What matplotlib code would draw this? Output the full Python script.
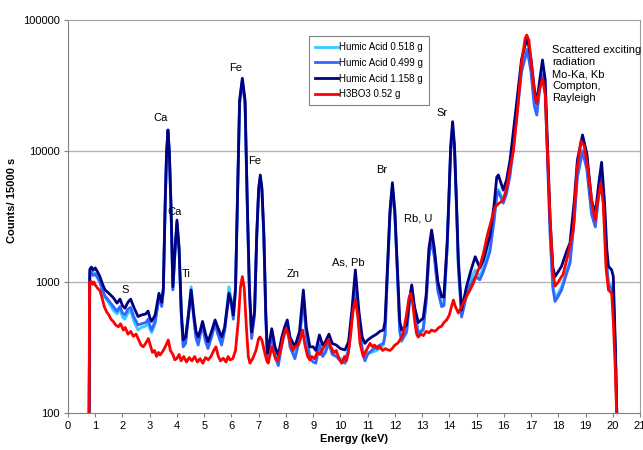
import numpy as np
from matplotlib import pyplot as plt

plt.rcParams['font.family'] = ['Liberation Sans', 'DejaVu Sans']

# energy grid shared by the three humic acid spectra (keV)
energy_ha = [0.77, 0.80, 0.86, 0.92, 1.00, 1.08, 1.17, 1.27, 1.36, 1.50,
             1.66, 1.80, 1.91, 2.00, 2.09, 2.20, 2.30, 2.42, 2.57, 2.70,
             2.85, 2.94, 3.00, 3.07, 3.20, 3.34, 3.44, 3.50, 3.57, 3.62,
             3.67, 3.72, 3.78, 3.85, 3.93, 4.00, 4.08, 4.16, 4.23, 4.32,
             4.42, 4.52, 4.62, 4.70, 4.78, 4.86, 4.94, 5.05, 5.14, 5.27,
             5.40, 5.50, 5.64, 5.75, 5.91, 6.00, 6.07, 6.15, 6.22, 6.30,
             6.40, 6.50, 6.58, 6.66, 6.74, 6.85, 6.93, 7.00, 7.06, 7.12,
             7.19, 7.26, 7.32, 7.40, 7.48, 7.60, 7.72, 7.85, 7.95, 8.05,
             8.15, 8.33, 8.50, 8.64, 8.75, 8.88, 9.00, 9.10, 9.23, 9.35,
             9.45, 9.58, 9.70, 9.85, 10.00, 10.17, 10.30, 10.42, 10.55, 10.68,
             10.80, 10.90, 11.00, 11.15, 11.33, 11.45, 11.58, 11.64, 11.73, 11.82,
             11.91, 12.00, 12.09, 12.18, 12.25, 12.43, 12.52, 12.62, 12.72, 12.86,
             13.04, 13.15, 13.25, 13.35, 13.45, 13.58, 13.72, 13.80, 13.92, 13.98,
             14.05, 14.12, 14.19, 14.26, 14.33, 14.45, 14.63, 14.78, 14.95, 15.12,
             15.25, 15.49, 15.65, 15.74, 15.80, 15.98, 16.10, 16.23, 16.35, 16.47,
             16.65, 16.86, 17.00, 17.12, 17.21, 17.32, 17.42, 17.52, 17.60, 17.70,
             17.80, 17.88, 18.00, 18.12, 18.30, 18.43, 18.59, 18.70, 18.89, 19.05,
             19.22, 19.36, 19.48, 19.59, 19.70, 19.78, 19.84, 19.96, 20.02, 20.10,
             20.18]

# Humic Acid 1.158 g
counts_1158 = [50, 1250, 1300, 1230, 1280, 1200, 1100, 960, 870, 820,
               760, 690, 740, 660, 630, 700, 740, 640, 545, 560,
               570, 600, 540, 500, 560, 820, 700, 900, 4225, 10000,
               14500, 10000, 4000, 920, 1800, 2970, 1800, 600, 361, 380,
               560, 870, 560, 420, 380, 430, 500, 400, 350, 420,
               513, 450, 380, 450, 820, 700, 560, 900, 4225, 24500,
               35900, 24500, 4225, 900, 415, 600, 2350, 5200, 6560, 5200,
               2350, 600, 286, 350, 440, 320, 277, 380, 450, 513,
               380, 320, 420, 869, 450, 320, 320, 300, 394, 330,
               350, 400, 340, 330, 310, 303, 350, 600, 1236, 600,
               380, 340, 360, 380, 400, 420, 430, 500, 1320, 3500,
               5730, 3500, 1320, 500, 430, 470, 700, 950, 650, 490,
               530, 800, 1800, 2494, 1800, 1000, 770, 770, 2000, 4225,
               11000, 16750, 11000, 4225, 1500, 611, 920, 1200, 1560, 1280,
               1470, 2250, 4000, 6320, 6560, 5030, 6000, 8540, 14000, 23150,
               50000, 74000, 50000, 30000, 23150, 35000, 49500, 35000, 12000, 3000,
               1300, 1100, 1200, 1320, 1700, 1990, 4225, 8500, 13250, 9500,
               4225, 3300, 5500, 8200, 4000, 1800, 1320, 1236, 1100, 300,
               50]

# Humic Acid 0.499 g
counts_0499 = [50, 1150, 1180, 1120, 1150, 1080, 1000, 860, 780, 720,
               650, 600, 650, 580, 560, 620, 640, 540, 470, 480,
               490, 520, 470, 430, 500, 760, 650, 850, 4000, 9500,
               13800, 9500, 3700, 870, 1700, 2800, 1700, 540, 320, 340,
               540, 840, 520, 370, 330, 400, 460, 350, 310, 380,
               480, 400, 330, 420, 800, 660, 520, 860, 4000, 23000,
               34000, 23000, 4000, 820, 370, 560, 2200, 4900, 6200, 4900,
               2200, 540, 250, 310, 400, 270, 230, 330, 400, 470,
               320, 260, 360, 760, 380, 260, 245, 240, 330, 270,
               290, 340, 280, 270, 250, 240, 300, 520, 870, 480,
               300, 250, 280, 300, 320, 330, 340, 400, 1200, 3200,
               5200, 3200, 1200, 420, 361, 420, 650, 920, 600, 400,
               430, 700, 1550, 2100, 1550, 850, 650, 660, 1800, 3900,
               10000, 14900, 10000, 3900, 1300, 540, 780, 950, 1100, 1040,
               1200, 1700, 3000, 4500, 4900, 4000, 4700, 6500, 10500, 18000,
               40000, 59000, 40000, 22000, 18800, 30000, 38000, 28000, 9000, 2300,
               900, 710, 780, 869, 1150, 1390, 3000, 6300, 9900, 7200,
               3300, 2630, 4500, 6000, 3000, 1300, 950, 880, 800, 260,
               50]

# Humic Acid 0.518 g
counts_0518 = [50, 1180, 1200, 1140, 1170, 1100, 1000, 850, 760, 690,
               610, 570, 620, 540, 520, 580, 600, 500, 430, 450,
               460, 490, 440, 410, 480, 780, 660, 860, 4100, 9700,
               14000, 9700, 3800, 880, 1750, 2850, 1750, 560, 335, 360,
               580, 920, 560, 390, 350, 420, 480, 370, 320, 400,
               500, 420, 350, 440, 920, 720, 540, 880, 4100, 23500,
               34500, 23500, 4100, 850, 380, 580, 2250, 5000, 6300, 5000,
               2250, 560, 260, 330, 420, 290, 250, 350, 420, 480,
               340, 280, 380, 780, 400, 270, 265, 255, 345, 285,
               305, 350, 290, 280, 260, 255, 310, 540, 980, 520,
               320, 270, 290, 290, 300, 310, 330, 390, 1220, 3300,
               5300, 3300, 1220, 420, 350, 410, 660, 930, 610, 410,
               440, 720, 1600, 2200, 1600, 880, 650, 670, 1850, 4000,
               10300, 15500, 10300, 4000, 1350, 560, 850, 1050, 1236, 1100,
               1300, 1850, 3300, 4800, 5100, 4200, 4900, 7000, 11000, 19000,
               42000, 60000, 42000, 23000, 19500, 31000, 39000, 29000, 9500, 2400,
               950, 760, 820, 920, 1200, 1450, 3200, 6600, 10200, 7500,
               3400, 2700, 4700, 6300, 3200, 1350, 1000, 930, 850, 270,
               50]

# H3BO3 0.52 g blank
energy_h3bo3 = [0.77, 0.79, 0.85, 0.90, 0.95, 1.00, 1.08, 1.17, 1.25, 1.33,
                1.42, 1.50, 1.58, 1.66, 1.75, 1.85, 1.93, 2.03, 2.10, 2.20,
                2.30, 2.40, 2.50, 2.60, 2.68, 2.76, 2.85, 2.95, 3.02, 3.10,
                3.18, 3.25, 3.32, 3.38, 3.50, 3.60, 3.68, 3.76, 3.85, 3.92,
                3.99, 4.08, 4.15, 4.25, 4.35, 4.45, 4.55, 4.65, 4.75, 4.85,
                4.95, 5.05, 5.15, 5.25, 5.35, 5.43, 5.52, 5.60, 5.70, 5.80,
                5.88, 5.95, 6.05, 6.15, 6.25, 6.33, 6.40, 6.47, 6.55, 6.62,
                6.68, 6.78, 6.90, 7.00, 7.05, 7.12, 7.22, 7.30, 7.35, 7.42,
                7.48, 7.55, 7.62, 7.70, 7.80, 7.90, 8.00, 8.08, 8.18, 8.25,
                8.33, 8.45, 8.52, 8.61, 8.70, 8.80, 8.88, 8.95, 9.05, 9.15,
                9.25, 9.35, 9.45, 9.56, 9.65, 9.75, 9.85, 9.95, 10.05, 10.15,
                10.22, 10.29, 10.38, 10.46, 10.55, 10.64, 10.72, 10.80, 10.84, 10.95,
                11.02, 11.09, 11.18, 11.25, 11.35, 11.45, 11.55, 11.65, 11.76, 11.82,
                11.90, 12.00, 12.10, 12.19, 12.30, 12.42, 12.52, 12.58, 12.65, 12.74,
                12.80, 12.86, 12.95, 13.05, 13.15, 13.25, 13.35, 13.45, 13.53, 13.62,
                13.72, 13.80, 13.90, 14.00, 14.08, 14.15, 14.22, 14.33, 14.45, 14.55,
                14.65, 14.76, 14.90, 15.00, 15.12, 15.25, 15.40, 15.55, 15.68, 15.80,
                15.90, 15.98, 16.10, 16.20, 16.35, 16.50, 16.65, 16.78, 16.84, 16.92,
                17.02, 17.12, 17.21, 17.32, 17.42, 17.52, 17.60, 17.70, 17.80, 17.88,
                18.00, 18.18, 18.35, 18.45, 18.55, 18.68, 18.83, 18.95, 19.10, 19.25,
                19.35, 19.45, 19.56, 19.65, 19.75, 19.84, 19.96, 20.02, 20.10, 20.18]
counts_h3bo3 = [50, 1000, 1010, 960, 1000, 950, 900, 860, 760, 650,
                590, 560, 520, 500, 470, 455, 480, 430, 450, 400,
                420, 385, 400, 360, 330, 320, 340, 370, 330, 290,
                300, 270, 290, 277, 300, 330, 361, 300, 280, 255,
                260, 280, 250, 270, 245, 265, 250, 270, 245, 260,
                240, 265, 255, 270, 300, 320, 270, 250, 262, 245,
                270, 254, 260, 300, 500, 900, 1100, 900, 450, 270,
                240, 260, 300, 370, 380, 360, 290, 250, 240, 280,
                320, 290, 260, 250, 300, 380, 440, 400, 330, 300,
                320, 330, 360, 430, 330, 270, 254, 270, 260, 290,
                280, 310, 330, 361, 320, 290, 300, 260, 240, 270,
                250, 285, 400, 600, 729, 550, 340, 290, 270, 300,
                320, 340, 320, 330, 310, 320, 300, 310, 303, 300,
                310, 330, 340, 361, 400, 550, 760, 820, 700, 480,
                400, 380, 400, 390, 420, 410, 430, 420, 430, 450,
                460, 490, 513, 560, 650, 729, 650, 580, 650, 720,
                790, 869, 1000, 1150, 1320, 1650, 2300, 3000, 3750, 3950,
                4100, 4225, 5200, 6800, 10000, 20000, 47000, 72000, 76800, 70000,
                45000, 28000, 23150, 30000, 35900, 27000, 10000, 3000, 1200, 930,
                1000, 1150, 1600, 2000, 2500, 7000, 11900, 11000, 7000, 3800,
                2970, 4200, 5680, 4000, 1300, 870, 820, 500, 200, 50]

# peak labels: text, energy, counts
peak_labels = ['S', 'Ca', 'Ca', 'Ti', 'Fe', 'Fe', 'Zn', 'As, Pb', 'Br', 'Rb, U', 'Sr']
label_e = [2.09, 3.41, 3.93, 4.33, 6.17, 6.86, 8.26, 10.28, 11.53, 12.85, 13.73]
label_c = [869, 17860, 3420, 1150, 43100, 8400, 1150, 1420, 7170, 3030, 19500]

fig = plt.figure(figsize=(6.43, 4.5), dpi=100)
ax = fig.add_axes([68/643, 37/450, 572/643, 393/450])

ax.plot(energy_ha, counts_0518, color='#33CCFF', lw=2, label='Humic Acid 0.518 g')
ax.plot(energy_ha, counts_0499, color='#3366FF', lw=2, label='Humic Acid 0.499 g')
ax.plot(energy_ha, counts_1158, color='#000080', lw=2, label='Humic Acid 1.158 g')
ax.plot(energy_h3bo3, counts_h3bo3, color='#FF0000', lw=2, label='H3BO3 0.52 g')

ax.set_yscale('log')
ax.set_xlim(0, 21)
ax.set_ylim(100, 100000)
ax.set_xticks(range(22))
ax.set_yticks([100, 1000, 10000, 100000])
ax.set_yticklabels(['100', '1000', '10000', '100000'])
ax.yaxis.set_minor_locator(plt.NullLocator())
ax.tick_params(labelsize=8, length=3, color='#808080', pad=3)

#gridlines only at 1000 and 10000
for g in [1000, 10000]:
    ax.axhline(g, color='#b4b4b4', lw=1, zorder=0)

for s in ['top', 'right']:
    ax.spines[s].set_color('#a0a0a0')
for s in ['left', 'bottom']:
    ax.spines[s].set_color('#808080')

ax.set_xlabel('Energy (keV)', fontsize=8, fontweight='bold', labelpad=2)
ax.set_ylabel('Counts/ 15000 s', fontsize=8, fontweight='bold')
ax.yaxis.set_label_coords(-0.089, 0.542)

for t, e, c in zip(peak_labels, label_e, label_c):
    ax.text(e, c, t, fontsize=8, ha='center', va='center')

ax.text(17.77, 64000, 'Scattered exciting\nradiation\nMo-Ka, Kb\nCompton,\nRayleigh',
        fontsize=8, ha='left', va='top', linespacing=1.25)

leg = ax.legend(loc='upper left', bbox_to_anchor=(0.421, 0.959), fontsize=7,
                fancybox=False, framealpha=1, edgecolor='#808080',
                handlelength=2.4, handletextpad=0.1, borderpad=0.6,
                labelspacing=0.6, borderaxespad=0)
leg.get_frame().set_linewidth(0.8)

fig.savefig('out.png', dpi=100)
